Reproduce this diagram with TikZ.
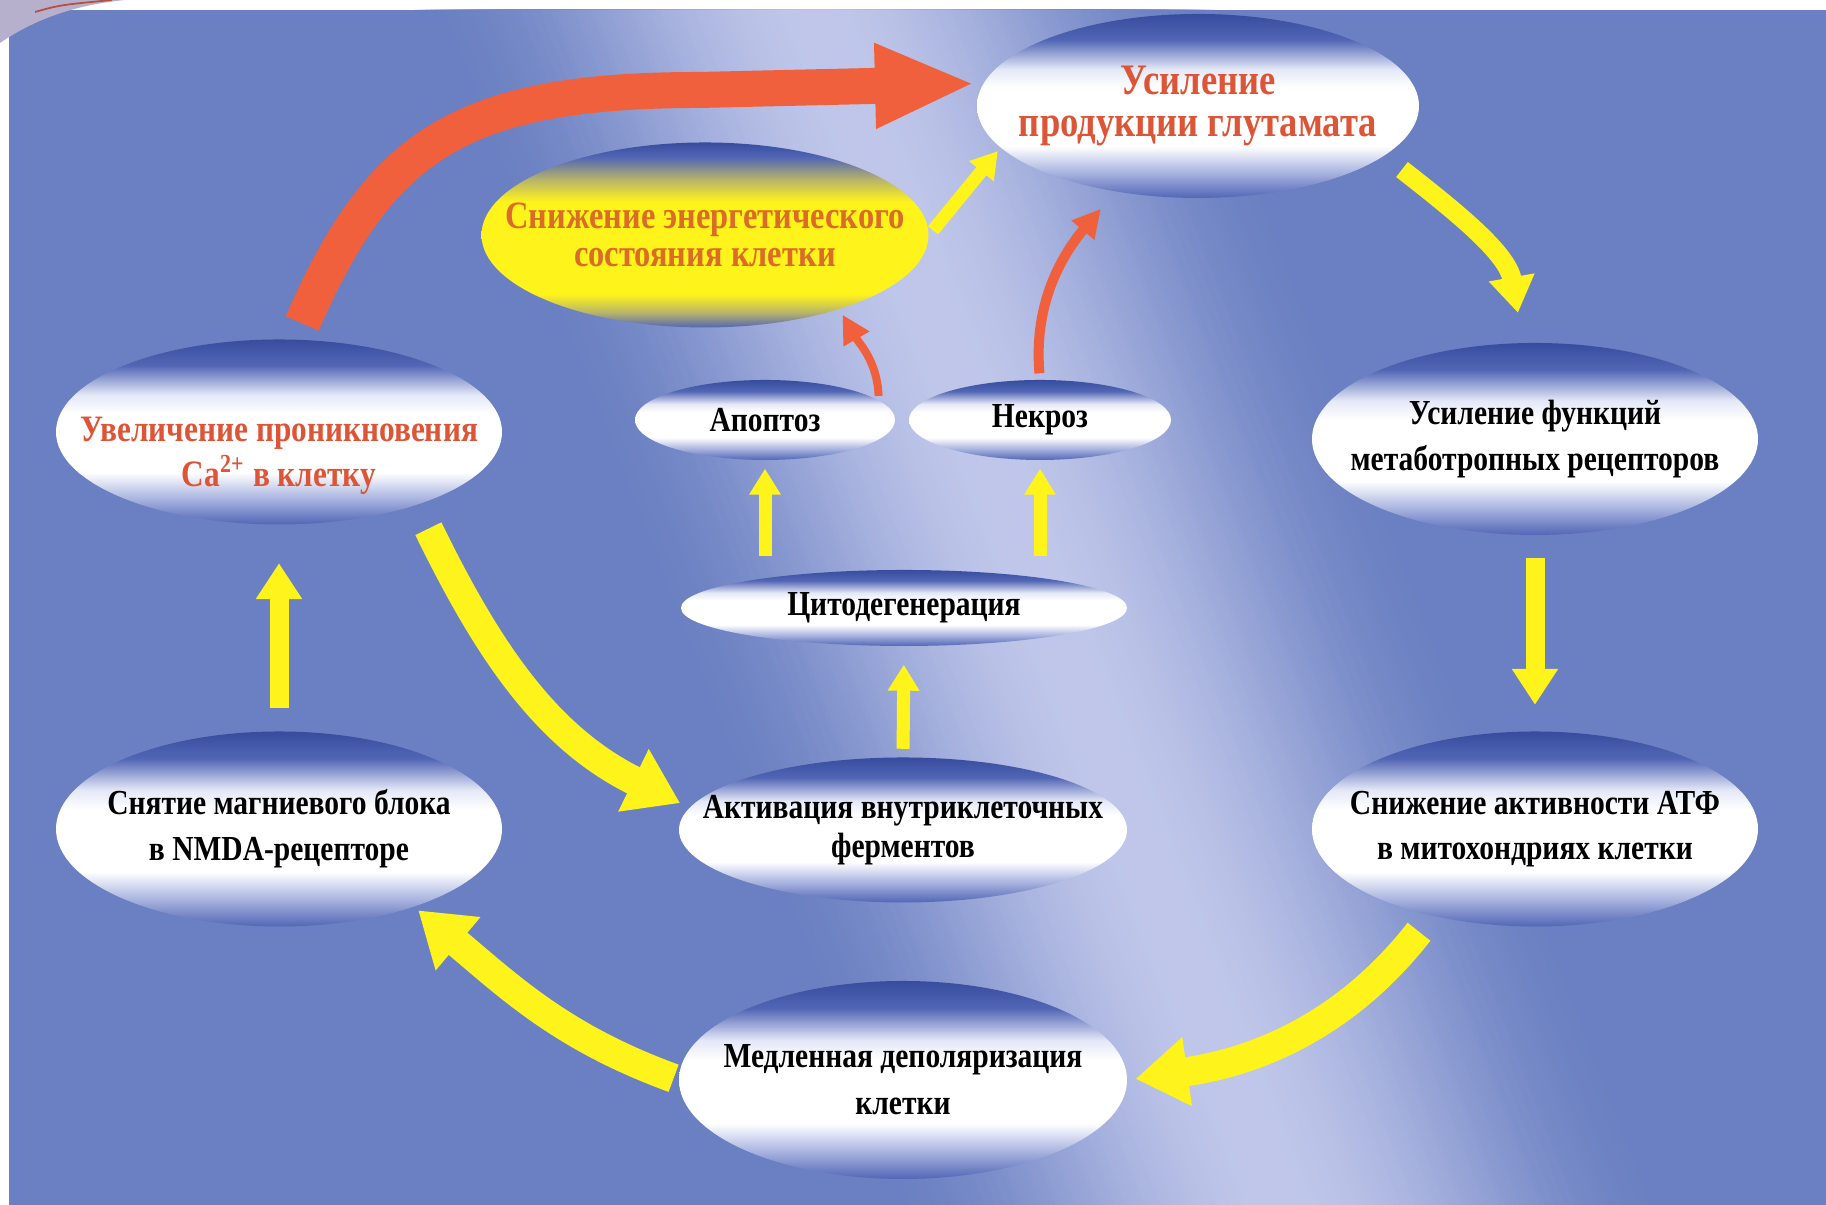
\documentclass[tikz,border=0pt]{standalone}
\usepackage{fontspec}
\setmainfont{Liberation Serif}[FakeStretch=0.84]
\usepackage{tikz}
\usetikzlibrary{arrows.meta, shapes.geometric}
\usepackage{xcolor}
\definecolor{BgBlue}{HTML}{6B80C2}
\definecolor{BgLight}{HTML}{C0C7EA}
\definecolor{OvBlue}{HTML}{5266B5}
\definecolor{OvDark}{HTML}{374C9E}
\definecolor{OvPale}{HTML}{A9B4E0}
\definecolor{OvMist}{HTML}{E4E8F7}
\definecolor{Gold}{HTML}{FFF31C}
\definecolor{GoldDim}{HTML}{B7B46A}
\definecolor{ArrRed}{HTML}{F0603C}
\definecolor{TxtRed}{HTML}{DD5537}
\definecolor{TxtOrange}{HTML}{DB6C27}
\definecolor{Swoosh}{HTML}{B7B0CC}
\definecolor{SwooshLine}{HTML}{B5503F}

\pgfdeclareverticalshading{ovalwhite}{100bp}{color(0bp)=(OvBlue); color(25bp)=(OvBlue);
  color(32bp)=(OvPale); color(39bp)=(white); color(55bp)=(white); color(60bp)=(OvMist);
  color(68bp)=(OvBlue); color(75bp)=(OvDark); color(100bp)=(OvDark)}
\pgfdeclareverticalshading{ovalgold}{100bp}{color(0bp)=(OvBlue); color(25bp)=(OvBlue);
  color(29bp)=(GoldDim); color(34bp)=(Gold); color(59bp)=(Gold); color(65bp)=(GoldDim);
  color(71bp)=(OvBlue); color(75bp)=(OvDark); color(100bp)=(OvDark)}

\begin{document}
\begin{tikzpicture}[>=Stealth, font=\bfseries,
  oval/.style={ellipse, shade, shading=ovalwhite, inner xsep=-1cm, inner ysep=-0.3cm,
    align=center, text=black, font=\bfseries\fontsize{10}{13}\selectfont},
  goldoval/.style={oval, shading=ovalgold},
  bigR/.style={ArrRed, line width=0.36cm, -{Triangle[length=1.0cm, width=0.78cm]}},
  thinR/.style={ArrRed, line width=0.10cm, -{Triangle[length=0.28cm, width=0.28cm]}},
  bigY/.style={Gold, line width=0.29cm, -{Triangle[length=0.52cm, width=0.66cm]}},
  midY/.style={Gold, line width=0.19cm, -{Triangle[length=0.36cm, width=0.44cm]}},
  smallY/.style={Gold, line width=0.13cm, -{Triangle[length=0.26cm, width=0.30cm]}}]
  % Slide
  \useasboundingbox (0,0) rectangle (18.26,12.05);
  \fill[white] (0,0) rectangle (18.26,12.05);
  \begin{scope}
    \clip (0.09,0) rectangle (18.26,11.95);
    \fill[BgBlue] (0.09,0) rectangle (18.26,11.95);
    % light band across the slide
    \foreach \w in {4.0,3.95,...,0.05} {
      \pgfmathtruncatemacro\p{50+50*cos(180*\w/4.0)}
      \fill[BgLight!\p!BgBlue] (8.15-\w,11.95) -- (8.15+\w,11.95) -- (12.8+\w,0) -- (12.8-\w,0) -- cycle;
    }
  \end{scope}
  \fill[Swoosh] (0,12.05) -- (0,11.62) .. controls (0.35,11.86) and (0.75,12.0) .. (1.25,12.05) -- cycle;
  \draw[SwooshLine, line width=0.5pt] (0.35,11.93) .. controls (0.6,12.0) .. (1.12,12.05);
  % Top of the loop
  \node[oval, minimum width=4.42cm, minimum height=1.84cm, text=TxtRed,
    font=\bfseries\fontsize{12.4}{12}\selectfont] (glut) at (11.98,10.99) {Усиление\\продукции глутамата};
  \node[goldoval, minimum width=4.47cm, minimum height=1.85cm, text=TxtOrange,
    font=\bfseries\fontsize{11}{11}\selectfont] (energy) at (7.05,9.70) {Снижение энергетического\\состояния клетки};
  \node[oval, minimum width=4.46cm, minimum height=1.85cm, text=TxtRed,
    font=\bfseries\fontsize{10.6}{13}\selectfont] (calcium) at (2.79,7.73) {\rule{0pt}{0.72cm}Увеличение проникновения\\Ca\textsuperscript{2+} в клетку};
  \node[oval, minimum width=4.46cm, minimum height=1.92cm] (metab) at (15.35,7.66) {Усиление функций\\метаботропных рецепторов};
  % Middle column
  \node[oval, minimum width=2.60cm, minimum height=0.80cm] (apop) at (7.65,7.85) {Апоптоз};
  \node[oval, minimum width=2.62cm, minimum height=0.80cm] (necr) at (10.40,7.85) {Некроз};
  \node[oval, minimum width=4.46cm, minimum height=0.76cm] (cyto) at (9.04,5.97) {Цитодегенерация};
  \node[oval, minimum width=4.48cm, minimum height=1.45cm,
    font=\bfseries\fontsize{10}{11}\selectfont] (enz) at (9.03,3.75) {Активация внутриклеточных\\ферментов};
  % Bottom of the loop
  \node[oval, minimum width=4.46cm, minimum height=1.95cm] (mg) at (2.79,3.76) {Снятие магниевого блока\\в NMDA-рецепторе};
  \node[oval, minimum width=4.46cm, minimum height=1.95cm] (atp) at (15.35,3.76) {Снижение активности АТФ\\в митохондриях клетки};
  \node[oval, minimum width=4.48cm, minimum height=1.98cm,
    font=\bfseries\fontsize{10}{13.4}\selectfont] (depol) at (9.03,1.25) {Медленная деполяризация\\клетки};
  % Red arrows
  \draw[bigR, shorten <=0.17cm, shorten >=0.08cm] (calcium.80) .. controls (3.8,10.6) and (4.6,11.15) .. (7.0,11.15) -- (glut.174);
  \draw[thinR, shorten <=0.06cm, shorten >=0.22cm] (necr.north) to[out=95, in=-130] (glut.226);
  \draw[thinR, line width=0.08cm, shorten <=0.04cm, shorten >=0.06cm] (apop.10) to[out=92, in=-60] (energy.-29);
  % Yellow arrows, middle
  \draw[smallY, shorten <=0.06cm, shorten >=0.04cm] (energy.east) -- (glut.192);
  \draw[smallY, shorten <=0.13cm, shorten >=0.08cm] (apop.south |- cyto.north) -- (apop.south);
  \draw[smallY, shorten <=0.13cm, shorten >=0.08cm] (necr.south |- cyto.north) -- (necr.south);
  \draw[smallY, shorten <=0.08cm, shorten >=0.18cm] (enz.north) -- (cyto.south);
  % Yellow arrows, outer loop
  \draw[midY, shorten <=0.22cm, shorten >=0.30cm] (glut.-15) to[out=-38, in=100] (metab.97);
  \draw[midY, shorten <=0.22cm, shorten >=0.26cm] (metab.south) -- (atp.north);
  \draw[bigY, shorten <=0.20cm, shorten >=0.08cm] (atp.220) to[out=-128, in=8] (depol.east);
  \draw[bigY, shorten <=0.05cm, shorten >=0.05cm] (depol.west) to[out=160, in=-40] (mg.-30);
  \draw[midY, shorten <=0.23cm, shorten >=0.38cm] (mg.north) -- (calcium.south);
  \draw[bigY, shorten <=0.26cm, shorten >=0.10cm] (calcium.-28) to[out=-64, in=154] (enz.174);
\end{tikzpicture}
\end{document}
